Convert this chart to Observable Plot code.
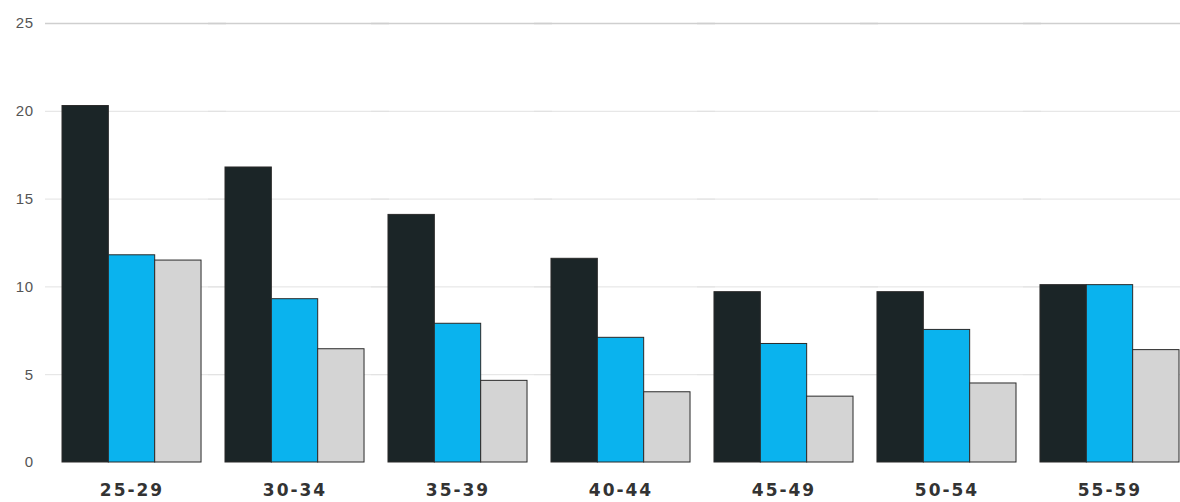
<!DOCTYPE html>
<html>
<head>
<meta charset="utf-8">
<script src="https://cdn.jsdelivr.net/npm/d3@7"></script>
<script src="https://cdn.jsdelivr.net/npm/@observablehq/plot@0.6"></script>
<style>
  html, body { margin: 0; padding: 0; background: #fff; }
  #chart svg { display: block; }
  g[aria-label="fx-axis tick label"] { font-size: 17px; }
  g[aria-label="fx-axis tick label"] text { letter-spacing: 2px; }
  g[aria-label="y-axis tick label"] text { letter-spacing: 0.5px; }
</style>
</head>
<body>
<div id="chart"></div>
<script>
const ageGroups = ["25-29", "30-34", "35-39", "40-44", "45-49", "50-54", "55-59"];
const seriesNames = ["A", "B", "C"];
const seriesA = [20.3, 16.8, 14.1, 11.6, 9.7, 9.7, 10.1];
const seriesB = [11.8, 9.3, 7.9, 7.1, 6.75, 7.55, 10.1];
const seriesC = [11.5, 6.45, 4.65, 4.0, 3.75, 4.5, 6.4];
const yTicks = [0, 5, 10, 15, 20, 25];
const gridTicks = [5, 10, 15, 20];
const colors = ["#1b2527", "#0ab3ee", "#d4d4d4"];

const allSeries = [seriesA, seriesB, seriesC];
const data = [];
ageGroups.forEach((age, i) => {
  seriesNames.forEach((s, j) => {
    data.push({age, series: s, value: allSeries[j][i]});
  });
});

const chart = Plot.plot({
  width: 1180,
  height: 502,
  marginLeft: 62,
  marginRight: 1,
  marginTop: 23,
  marginBottom: 40,
  style: {fontFamily: "'Liberation Sans', Arial, sans-serif", background: "#fff"},
  fx: {domain: ageGroups, paddingInner: 0.147, paddingOuter: 0, round: false, label: null},
  x: {domain: seriesNames, padding: 0, round: false, axis: null},
  y: {domain: [0, 25], axis: null},
  color: {domain: seriesNames, range: colors},
  marks: [
    Plot.ruleY(gridTicks, {y: d => d, stroke: "#e2e2e2", strokeWidth: 1, insetLeft: -17, insetRight: -25}),
    Plot.ruleY([25], {y: d => d, stroke: "#cfcfcf", strokeWidth: 1.5, insetLeft: -17, insetRight: -25}),
    Plot.barY(data, {fx: "age", x: "series", y: "value", fill: "series", stroke: "#2a2a2a", strokeWidth: 1, inset: 0}),
    Plot.axisY({ticks: yTicks, tickSize: 0, tickPadding: 29, fontSize: 15, fill: "#555", label: null}),
    Plot.axisFx({anchor: "bottom", tickSize: 0, tickPadding: 21, fontWeight: "bold", fill: "#333", fontFamily: "'DejaVu Sans', sans-serif", label: null})
  ]
});
document.getElementById("chart").appendChild(chart);
</script>
</body>
</html>
